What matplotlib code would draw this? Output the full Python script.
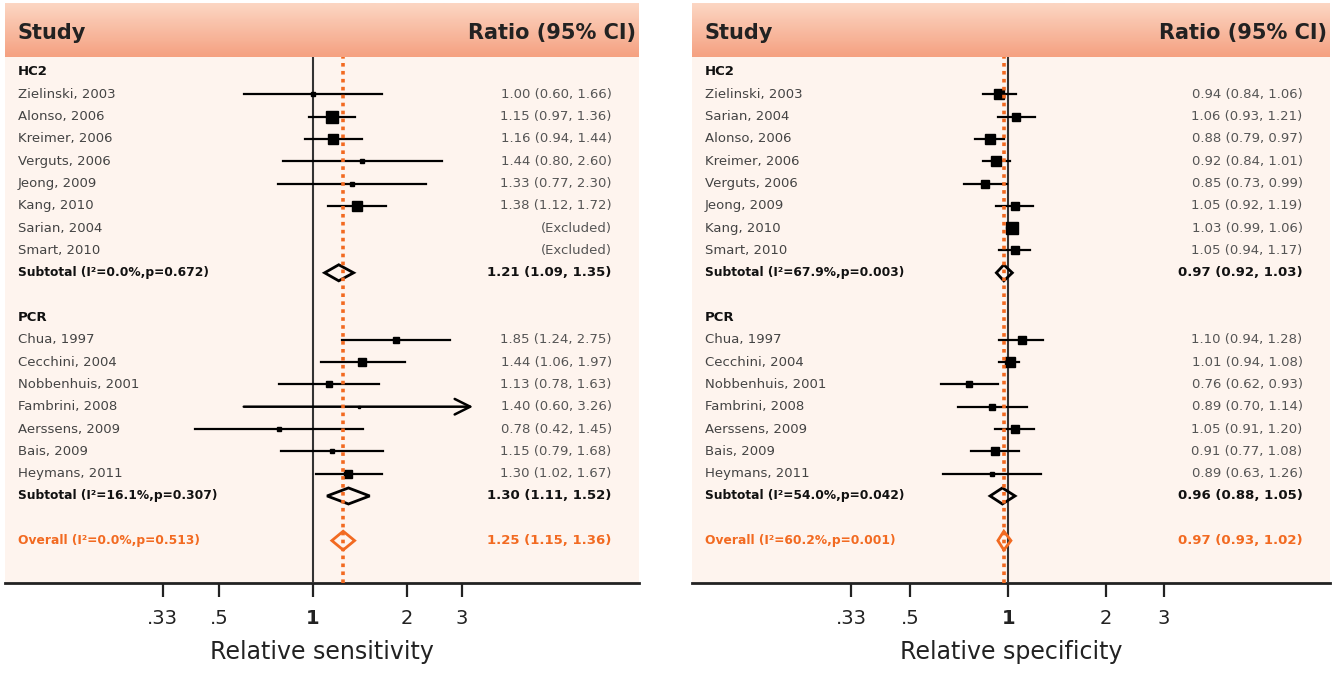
import numpy as np
import matplotlib
matplotlib.use("Agg")
import matplotlib.pyplot as plt
from matplotlib.colors import LinearSegmentedColormap
from matplotlib.patches import Polygon

# ---- data ----------------------------------------------------------------
# relative sensitivity
sens_hc2_names = ["Zielinski, 2003", "Alonso, 2006", "Kreimer, 2006", "Verguts, 2006",
                  "Jeong, 2009", "Kang, 2010", "Sarian, 2004", "Smart, 2010"]
sens_hc2_est = [1.00, 1.15, 1.16, 1.44, 1.33, 1.38, None, None]
sens_hc2_lo = [0.60, 0.97, 0.94, 0.80, 0.77, 1.12, None, None]
sens_hc2_hi = [1.66, 1.36, 1.44, 2.60, 2.30, 1.72, None, None]
sens_hc2_w = [5, 30, 17, 3, 3, 17, 0, 0]
sens_hc2_sub = (1.21, 1.09, 1.35, "0.0%", "0.672")

sens_pcr_names = ["Chua, 1997", "Cecchini, 2004", "Nobbenhuis, 2001", "Fambrini, 2008",
                  "Aerssens, 2009", "Bais, 2009", "Heymans, 2011"]
sens_pcr_est = [1.85, 1.44, 1.13, 1.40, 0.78, 1.15, 1.30]
sens_pcr_lo = [1.24, 1.06, 0.78, 0.60, 0.42, 0.79, 1.02]
sens_pcr_hi = [2.75, 1.97, 1.63, 3.26, 1.45, 1.68, 1.67]
sens_pcr_w = [7.5, 13, 7.5, 1, 3.3, 5, 13]
sens_pcr_sub = (1.30, 1.11, 1.52, "16.1%", "0.307")
sens_overall = (1.25, 1.15, 1.36, "0.0%", "0.513")

# relative specificity
spec_hc2_names = ["Zielinski, 2003", "Sarian, 2004", "Alonso, 2006", "Kreimer, 2006",
                  "Verguts, 2006", "Jeong, 2009", "Kang, 2010", "Smart, 2010"]
spec_hc2_est = [0.94, 1.06, 0.88, 0.92, 0.85, 1.05, 1.03, 1.05]
spec_hc2_lo = [0.84, 0.93, 0.79, 0.84, 0.73, 0.92, 0.99, 0.94]
spec_hc2_hi = [1.06, 1.21, 0.97, 1.01, 0.99, 1.19, 1.06, 1.17]
spec_hc2_w = [17, 15, 19, 17, 13, 13, 30, 16]
spec_hc2_sub = (0.97, 0.92, 1.03, "67.9%", "0.003")

spec_pcr_names = ["Chua, 1997", "Cecchini, 2004", "Nobbenhuis, 2001", "Fambrini, 2008",
                  "Aerssens, 2009", "Bais, 2009", "Heymans, 2011"]
spec_pcr_est = [1.10, 1.01, 0.76, 0.89, 1.05, 0.91, 0.89]
spec_pcr_lo = [0.94, 0.94, 0.62, 0.70, 0.91, 0.77, 0.63]
spec_pcr_hi = [1.28, 1.08, 0.93, 1.14, 1.20, 1.08, 1.26]
spec_pcr_w = [13, 25, 7.5, 7.5, 16, 13, 5]
spec_pcr_sub = (0.96, 0.88, 1.05, "54.0%", "0.042")
spec_overall = (0.97, 0.93, 1.02, "60.2%", "0.001")

tick_vals = [0.33, 0.5, 1, 2, 3]
tick_labels = [".33", ".5", "1", "2", "3"]

ORANGE = "#F26A21"
PEACH = "#FEF4EE"
NAME_C = "#444444"
VAL_C = "#555555"

head_cmap = LinearSegmentedColormap.from_list("head", ["#FCD6C3", "#F5A181"])


def diamond(ax, est, lo, hi, y, color, h=0.36):
    d = Polygon([(lo, y), (est, y - h), (hi, y), (est, y + h)], closed=True,
                fill=False, edgecolor=color, lw=2, zorder=5)
    ax.add_patch(d)


def draw_panel(rect_head, rect_body, groups, overall, xlim, xlabel, arrow_rows=()):
    axh = fig.add_axes(rect_head)
    axh.imshow(np.linspace(0, 1, 50).reshape(-1, 1), aspect="auto", cmap=head_cmap,
               extent=(0, 1, 0, 1))
    axh.set_xlim(0, 1)
    axh.set_ylim(0, 1)
    axh.axis("off")
    axh.text(0.019, 0.45, "Study", fontsize=15, fontweight="bold", color="#222222",
             va="center", ha="left")
    axh.text(0.995, 0.45, "Ratio (95% CI)", fontsize=15, fontweight="bold",
             color="#222222", va="center", ha="right")

    ax = fig.add_axes(rect_body)
    ax.set_facecolor(PEACH)
    ax.set_xscale("log")
    ax.set_xlim(*xlim)
    ax.set_ylim(22.9, -0.67)
    tr = ax.get_yaxis_transform()

    row = 0
    for gname, names, est, lo, hi, w, sub in groups:
        ax.text(0.02, row, gname, transform=tr, fontsize=9.5, fontweight="bold",
                color="#111111", va="center")
        row += 1
        for i in range(len(names)):
            ax.text(0.02, row, names[i], transform=tr, fontsize=9.5, color=NAME_C,
                    va="center")
            if est[i] is None:
                ax.text(0.957, row, "(Excluded)", transform=tr, fontsize=9.5,
                        color=VAL_C, va="center", ha="right")
            else:
                if (gname, i) in arrow_rows:
                    ax.annotate("", xy=(hi[i], row), xytext=(lo[i], row),
                                arrowprops=dict(arrowstyle="->", lw=1.8, color="black",
                                                mutation_scale=28, shrinkA=0, shrinkB=0),
                                zorder=4)
                else:
                    ax.plot([lo[i], hi[i]], [row, row], color="black", lw=1.6, zorder=4)
                ax.plot(est[i], row, marker="s", color="black",
                        ms=max(1.5, 2.19 * np.sqrt(w[i]) * 0.72), zorder=4)
                ax.text(0.957, row, f"{est[i]:.2f} ({lo[i]:.2f}, {hi[i]:.2f})",
                        transform=tr, fontsize=9.5, color=VAL_C, va="center", ha="right")
            row += 1
        s_est, s_lo, s_hi, s_i2, s_p = sub
        ax.text(0.02, row, f"Subtotal (I²={s_i2},p={s_p})", transform=tr,
                fontsize=8.8, fontweight="bold", color="#111111", va="center")
        ax.text(0.957, row, f"{s_est:.2f} ({s_lo:.2f}, {s_hi:.2f})", transform=tr,
                fontsize=9.5, fontweight="bold", color="#111111", va="center", ha="right")
        diamond(ax, s_est, s_lo, s_hi, row, "black")
        row += 2

    o_est, o_lo, o_hi, o_i2, o_p = overall
    ax.text(0.02, row, f"Overall (I²={o_i2},p={o_p})", transform=tr, fontsize=8.8,
            fontweight="bold", color=ORANGE, va="center")
    ax.text(0.957, row, f"{o_est:.2f} ({o_lo:.2f}, {o_hi:.2f})", transform=tr,
            fontsize=9.5, fontweight="bold", color=ORANGE, va="center", ha="right")
    diamond(ax, o_est, o_lo, o_hi, row, ORANGE, h=0.42)

    ax.axvline(1, color="#333333", lw=1.5, zorder=3)
    ax.axvline(o_est, color=ORANGE, lw=2.6, ls=(0, (1, 1.2)), zorder=6)

    for side in ["top", "left", "right"]:
        ax.spines[side].set_visible(False)
    ax.spines["bottom"].set_linewidth(2)
    ax.spines["bottom"].set_color("#222222")
    ax.set_yticks([])
    ax.xaxis.set_minor_locator(matplotlib.ticker.NullLocator())
    ax.set_xticks(tick_vals)
    ax.set_xticklabels(tick_labels)
    ax.tick_params(axis="x", length=10, width=1.6, labelsize=14, pad=9,
                   color="#222222", labelcolor="#222222")
    ax.get_xticklabels()[2].set_fontweight("bold")
    ax.set_xlabel(xlabel, fontsize=17, color="#222222", labelpad=8)
    return ax


fig = plt.figure(figsize=(13.32, 6.73), dpi=100)
W, H = 1332.0, 673.0

draw_panel([5 / W, 1 - 57 / H, 634 / W, 54 / H],
           [5 / W, 1 - 583 / H, 634 / W, 526 / H],
           [("HC2", sens_hc2_names, sens_hc2_est, sens_hc2_lo, sens_hc2_hi, sens_hc2_w, sens_hc2_sub),
            ("PCR", sens_pcr_names, sens_pcr_est, sens_pcr_lo, sens_pcr_hi, sens_pcr_w, sens_pcr_sub)],
           sens_overall, (0.103, 11.1), "Relative sensitivity",
           arrow_rows=[("PCR", 3)])

draw_panel([692 / W, 1 - 57 / H, 638 / W, 54 / H],
           [692 / W, 1 - 583 / H, 638 / W, 526 / H],
           [("HC2", spec_hc2_names, spec_hc2_est, spec_hc2_lo, spec_hc2_hi, spec_hc2_w, spec_hc2_sub),
            ("PCR", spec_pcr_names, spec_pcr_est, spec_pcr_lo, spec_pcr_hi, spec_pcr_w, spec_pcr_sub)],
           spec_overall, (0.107, 9.73), "Relative specificity")

fig.savefig("out.png", dpi=100)
